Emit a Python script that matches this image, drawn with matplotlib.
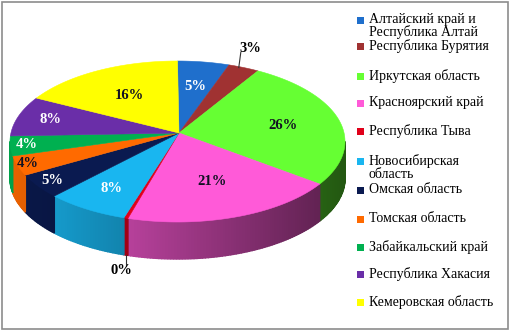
import numpy as np
import matplotlib.pyplot as plt
from matplotlib.colors import to_rgb
from matplotlib.patches import Rectangle

regions = ['Алтайский край и\nРеспублика Алтай', 'Республика Бурятия',
           'Иркутская область', 'Красноярский край', 'Республика Тыва',
           'Новосибирская\nобласть', 'Омская область', 'Томская область',
           'Забайкальский край', 'Республика Хакасия', 'Кемеровская область']
shares = [5, 3, 26, 21, 0.4, 8, 5, 4, 4, 8, 16]
colors = ['#1F6FCC', '#A03232', '#66FF33', '#FF5AD8', '#E0001A', '#19B6F0',
          '#0A1A50', '#FF6A00', '#00B050', '#6A2EA8', '#FFFF00']
label_colors = ['white', 'black', '#111122', '#111122', 'black', 'white',
                'white', '#111122', 'white', 'white', '#111122']
label_r = [0.65, None, 0.65, 0.58, None, 0.73, 0.9, 0.94, 0.9, 0.8, 0.6]
legend_y = [20, 46, 76, 103, 131, 161, 190, 219, 247, 274, 302]

plt.rcParams['font.family'] = ['Liberation Serif', 'DejaVu Serif']

fig = plt.figure(figsize=(5.1, 3.31), dpi=100)
ax = fig.add_axes([0, 0, 1, 1])
ax.set_xlim(0, 510)
ax.set_ylim(331, 0)
ax.axis('off')

# pie geometry (pixels)
cx, cy, rx, ry = 177.5, 141.5, 167.5, 80.5
apx, apy = 179, 133
depth = 37


def rim(t):
    t = np.radians(t)
    return cx + rx * np.sin(t), cy - ry * np.cos(t)


total = sum(shares)
edges = np.concatenate([[0], np.cumsum(shares) / total * 360])

# side walls with shading from left to right
for i, c in enumerate(colors):
    a, b = max(edges[i], 90), min(edges[i + 1], 270)
    if b <= a:
        continue
    n = max(2, int((b - a) / 1.0) + 2)
    ts = np.linspace(a, b, n)
    base = np.array(to_rgb(c))
    for k in range(n - 1):
        x0, y0 = rim(ts[k])
        x1, y1 = rim(ts[k + 1])
        f = 0.92 - 0.58 * ((x0 + x1) / 2 - 10) / 335
        col = np.clip(base * f, 0, 1)
        ax.fill([x0, x1, x1, x0], [y0, y1, y1 + depth, y0 + depth],
                facecolor=col, edgecolor=col, lw=1.0, zorder=2)

# top surface
for i, c in enumerate(colors):
    a, b = edges[i], edges[i + 1]
    ts = np.linspace(a, b, max(2, int(b - a) + 2))
    xs, ys = rim(ts)
    ax.fill(np.concatenate([[apx], xs]), np.concatenate([[apy], ys]),
            color=c, lw=0.4, zorder=3)

# percent labels
for i, v in enumerate(shares):
    txt = '{:.0f}%'.format(round(100 * v / total))
    mid = (edges[i] + edges[i + 1]) / 2
    rx_, ry_ = rim(mid)
    if label_r[i] is not None:
        f = label_r[i]
        ax.text(apx + f * (rx_ - apx), apy + f * (ry_ - apy), txt,
                ha='center', va='center', fontsize=10.5, fontweight='bold',
                color=label_colors[i], zorder=5)
    elif 90 < mid < 270:
        yb = ry_ + depth
        ax.plot([rx_, rx_], [yb, yb + 11], color='#333333', lw=0.8, zorder=4)
        ax.text(rx_ - 5, yb + 9, txt, ha='center', va='top', fontsize=10.5,
                fontweight='bold', color='black', zorder=5)
    else:
        ax.plot([rx_ - 5, rx_ - 3], [ry_, ry_ - 15], color='#333333', lw=0.8, zorder=4)
        ax.text(rx_ - 4, ry_ - 19, txt, ha='left', va='center', fontsize=10.5,
                fontweight='bold', color='black', zorder=5)

# legend
for lab, c, y in zip(regions, colors, legend_y):
    ax.add_patch(Rectangle((357, y - 3.5), 7, 7, facecolor=c, edgecolor='none'))
    ax.text(369, y - 7, lab, ha='left', va='top', fontsize=10,
            linespacing=0.95, color='black')

# outer frame
fig.patches.append(Rectangle((0.003, 0.006), 0.993, 0.988, transform=fig.transFigure,
                             fill=False, edgecolor='#8c8c8c', lw=1.2))

fig.savefig('out.png', dpi=100)
